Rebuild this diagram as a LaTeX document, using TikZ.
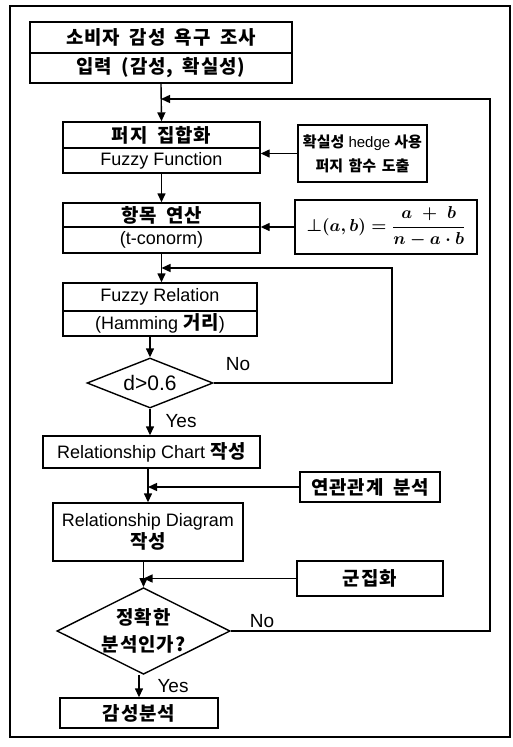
\documentclass[tikz,border=0pt]{standalone}
\usepackage{fontspec}
\usepackage{amsmath}
\setmainfont{Liberation Sans}
\newfontfamily\krf{Noto Sans CJK KR}[Scale=1.05,LetterSpace=5,WordSpace=1.8]
\newfontfamily\krn{Noto Sans CJK KR}[Scale=1.0,WordSpace=1.6]
\usetikzlibrary{arrows.meta,shapes.geometric}
\begin{document}
\begin{tikzpicture}[x=1pt,y=-1pt,
  every node/.style={font=\fontsize{18}{22}\selectfont},
  box/.style={draw,line width=1.4pt,inner sep=0pt,align=center},
  dia/.style={draw,line width=1.4pt,diamond,inner sep=0pt,align=center,shape aspect=2},
  arr/.style={line width=1.4pt,-{Triangle[length=9pt,width=8pt]}},
  lbl/.style={font=\fontsize{19}{22}\selectfont}
]
\useasboundingbox (0,0) rectangle (513,747);
\draw[line width=1.4pt] (10,6) rectangle (510,737);

\node[box,minimum width=262,minimum height=31] (b1a) at (161,37.5) {\krf\bfseries 소비자 감성 욕구 조사};
\node[box,minimum width=262,minimum height=30] (b1b) at (161,68) {\krf\bfseries 입력 (감성, 확실성)};

\node[box,minimum width=197,minimum height=26] (b2a) at (161.5,135) {\krf\bfseries 퍼지 집합화};
\node[box,minimum width=197,minimum height=25] (b2b) at (161.5,160.5) {Fuzzy Function};
\node[box,minimum width=129,minimum height=57,font=\fontsize{15}{24}\selectfont] (hedge) at (362.5,153.5) {{\krn\bfseries 확실성} hedge {\krn\bfseries 사용}\\{\krn\bfseries 퍼지 함수 도출}};

\node[box,minimum width=197,minimum height=24] (b3a) at (161.5,215) {\krf\bfseries 항목 연산};
\node[box,minimum width=197,minimum height=26] (b3b) at (161.5,240) {(t-conorm)};
\node[box,minimum width=182,minimum height=54] (formula) at (386,227) {$\boldsymbol{\mathord{\perp}(a,b)=\dfrac{a\;+\;b}{n-a\cdot b}}$};

\node[box,minimum width=194,minimum height=28] (b4a) at (160,297) {Fuzzy Relation};
\node[box,minimum width=194,minimum height=25] (b4b) at (160,323.5) {(Hamming {\krf\bfseries 거리})};

\node[dia,minimum width=126,minimum height=50,font=\fontsize{21}{24}\selectfont] (d1) at (150,383) {d>0.6};

\node[box,minimum width=217,minimum height=32] (chart) at (151.5,452) {Relationship Chart {\krf\bfseries 작성}};
\node[box,minimum width=140,minimum height=30] (rel) at (370,487) {\krf\bfseries 연관관계 분석};

\node[box,minimum width=190,minimum height=58] (rd) at (148,532) {Relationship Diagram\\{\krf\bfseries 작성}};
\node[box,minimum width=146,minimum height=35] (clus) at (370,578.5) {\krf\bfseries 군집화};

\node[dia,minimum width=173,minimum height=84,font=\fontsize{18}{27}\selectfont] (d2) at (143.5,631) {{\krf\bfseries 정확한}\\{\krf\bfseries 분석인가?}};

\node[box,minimum width=158,minimum height=30] (final) at (139,713) {\krf\bfseries 감성분석};

% labels
\node[lbl] (no1) at (238,364) {No};
\node[lbl] (yes1) at (181,421) {Yes};
\node[lbl] (no2) at (262,621) {No};
\node[lbl] (yes2) at (173,686) {Yes};

% coordinates for loops
\coordinate (loopBR) at (490,631);
\coordinate (loopTR) at (490,99);
\coordinate (loop2R) at (392,383);
\coordinate (loop2T) at (392,268);

% main flow
\draw[arr] (b1b.south) -- (b2a.north);
\draw[arr] (b2b.south) -- (b3a.north);
\draw[arr] (b3b.south) -- (b3b.south |- b4a.north);
\draw[arr] (d1.north |- b4b.south) -- (d1.north);
\draw[arr] (d1.south) -- (d1.south |- chart.north);
\draw[arr] (chart.south -| rd.north) -- (rd.north);
\draw[arr] (rd.south -| d2.north) -- (d2.north);
\draw[arr] (d2.south -| final.north) -- (final.north);

% side inputs
\draw[arr] (hedge.west) -- (hedge.west -| b2b.east);
\draw[arr] (formula.west) -- (formula.west -| b3b.east);
\draw[arr] (rel.west) -- (rel.west -| rd.north);
\draw[arr] (clus.west) -- (clus.west -| d2.north);

% loops
\draw[arr] (d1.east) -- (loop2R) -- (loop2T) -- (loop2T -| b3b.south);
\draw[arr] (d2.east) -- (loopBR) -- (loopTR) -- (loopTR -| b1b.south);
\end{tikzpicture}
\end{document}
